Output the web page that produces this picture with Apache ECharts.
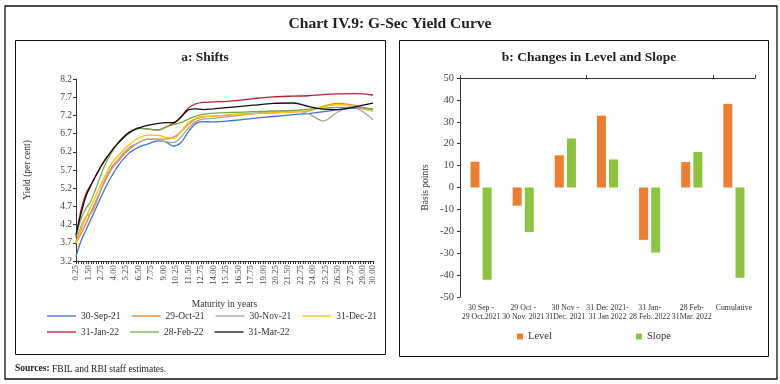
<!DOCTYPE html>
<html><head><meta charset="utf-8">
<script src="https://cdn.jsdelivr.net/npm/echarts@6/dist/echarts.min.js"></script>
<style>html,body{margin:0;padding:0;background:#fff}#c{width:780px;height:384px}</style>
</head><body><div id="c"></div><script>
const maturities = [0.25,0.75,1.25,1.75,2.25,3,3.75,4.5,5.5,6.5,7.5,8.5,9.25,10,10.75,11.5,12.25,13,14,16,18,20,22,23.5,25,26.5,28,29,30];
const sep21 = [3.32,3.75,4.05,4.35,4.65,5.1,5.5,5.83,6.15,6.32,6.42,6.5,6.47,6.36,6.45,6.75,6.98,7.03,7.02,7.06,7.12,7.17,7.22,7.25,7.3,7.36,7.4,7.39,7.37];
const oct21 = [3.7,3.95,4.23,4.55,4.85,5.3,5.7,5.95,6.25,6.45,6.55,6.55,6.55,6.6,6.75,6.95,7.1,7.16,7.18,7.22,7.25,7.27,7.3,7.32,7.45,7.53,7.48,7.42,7.36];
const nov21 = [3.72,4.15,4.42,4.5,4.78,5.35,5.75,6.0,6.3,6.45,6.55,6.53,6.48,6.45,6.6,6.85,7.03,7.1,7.12,7.18,7.24,7.32,7.33,7.25,7.05,7.3,7.43,7.3,7.08];
const dec21 = [3.68,4.05,4.4,4.7,5.0,5.45,5.85,6.1,6.38,6.58,6.66,6.65,6.6,6.57,6.75,7.0,7.12,7.17,7.18,7.22,7.25,7.27,7.3,7.33,7.44,7.5,7.46,7.38,7.31];
const jan22 = [3.85,4.6,5.05,5.3,5.55,5.9,6.2,6.45,6.7,6.85,6.82,6.8,6.88,6.98,7.15,7.4,7.52,7.56,7.57,7.6,7.66,7.71,7.73,7.74,7.77,7.79,7.8,7.79,7.76];
const feb22 = [3.88,4.35,4.65,4.85,5.2,5.75,6.15,6.45,6.72,6.85,6.82,6.8,6.88,6.95,7.0,7.1,7.18,7.23,7.26,7.28,7.3,7.32,7.34,7.37,7.4,7.42,7.43,7.4,7.36];
const mar22 = [3.92,4.5,4.98,5.28,5.55,5.92,6.2,6.45,6.72,6.85,6.93,6.98,7.0,7.0,7.15,7.35,7.38,7.36,7.38,7.43,7.48,7.53,7.54,7.45,7.37,7.36,7.42,7.48,7.54];
const curveNames = ['30-Sep-21','29-Oct-21','30-Nov-21','31-Dec-21','31-Jan-22','28-Feb-22','31-Mar-22'];
const curveColors = ['#4472C4','#ED7D31','#A5A5A5','#FFC000','#B8202E','#70AD47','#111111'];
const periods = ['30 Sep -\n29 Oct.2021','29 Oct -\n30 Nov. 2021','30 Nov -\n31Dec. 2021','31 Dec 2021-\n31 Jan 2022','31 Jan-\n28 Feb. 2022','28 Feb-\n31Mar. 2022','Cumulative'];
const level = [11.8,-8.3,14.7,32.8,-23.9,11.6,38.2];
const slope = [-42.1,-20.3,22.4,12.8,-29.7,16.2,-41.2];

const FONT = 'Liberation Serif';
const curves = [sep21,oct21,nov21,dec21,jan22,feb22,mar22];
const lineSeries = curves.map((vals,i)=>({
  name: curveNames[i], type:'line', xAxisIndex:0, yAxisIndex:0,
  data: maturities.map((m,j)=>[m, vals[j]]),
  smooth: 0.35, symbol:'none', lineStyle:{width:1.3, color:curveColors[i]}, itemStyle:{color:curveColors[i]}
}));

const legendCommon = {icon:'rect', itemWidth:29, itemHeight:1.3, itemGap:11, textStyle:{fontFamily:FONT,fontSize:9.5,color:'#333'}};

const chart = echarts.init(document.getElementById('c'));
chart.setOption({
  animation:false,
  textStyle:{fontFamily:FONT},
  title:[
    {text:'Chart IV.9: G-Sec Yield Curve', left:'center', top:11, textStyle:{fontFamily:FONT,fontSize:15.5,fontWeight:'bold',color:'#222'}},
    {text:'a: Shifts', left:200, textAlign:'center', top:46, textStyle:{fontFamily:FONT,fontSize:13.5,fontWeight:'bold',color:'#222'}},
    {text:'b: Changes in Level and Slope', left:584, textAlign:'center', top:46, textStyle:{fontFamily:FONT,fontSize:13.5,fontWeight:'bold',color:'#222'}}
  ],
  graphic:[
    {type:'rect', shape:{x:5,y:6,width:772,height:373}, style:{fill:null,stroke:'#111',lineWidth:1.3}, silent:true},
    {type:'rect', shape:{x:15.5,y:40.5,width:370,height:314}, style:{fill:null,stroke:'#111',lineWidth:1}, silent:true},
    {type:'rect', shape:{x:399.5,y:40.5,width:369,height:316}, style:{fill:null,stroke:'#111',lineWidth:1}, silent:true},
    {type:'text', left:15, top:364, style:{text:'{b|Sources:} FBIL and RBI staff estimates.', font:'9.5px '+FONT, fill:'#222', rich:{b:{fontWeight:'bold',fontSize:9.5,fontFamily:FONT}}}}
  ],
  legend:[
    Object.assign({data:curveNames.slice(0,4), left:42, top:306}, legendCommon),
    Object.assign({data:curveNames.slice(4), left:42, top:322}, legendCommon),
    {data:['Level','Slope'], left:512, top:326, icon:'rect', itemWidth:6, itemHeight:6, itemGap:84, textStyle:{fontFamily:FONT,fontSize:10.5,color:'#333'}}
  ],
  grid:[
    {left:76, right:407, top:79, bottom:123},
    {left:460, right:25, top:78, bottom:87}
  ],
  xAxis:[
    {type:'value', gridIndex:0, min:0.25, max:30, interval:0.25,
     name:'Maturity in years', nameLocation:'middle', nameGap:38, nameTextStyle:{fontFamily:FONT,fontSize:9.5,color:'#333'},
     axisLine:{lineStyle:{color:'#333'}}, axisTick:{show:true,length:3,lineStyle:{color:'#333'}}, splitLine:{show:false},
     axisLabel:{rotate:90, fontSize:8.8, color:'#444', margin:4, fontFamily:FONT,
       formatter:function(v){const k=(v-0.25)/1.25; if(Math.abs(k-Math.round(k))<1e-6 || Math.abs(v-30)<1e-6) return v.toFixed(2); return '';}}},
    {type:'category', gridIndex:1, data:periods, position:'bottom', axisLine:{show:false}, axisTick:{show:false},
     axisLabel:{fontSize:7.8, lineHeight:9, color:'#333', margin:6, interval:0, fontFamily:FONT}},
    {type:'category', gridIndex:1, data:periods, axisLine:{onZero:true, lineStyle:{color:'#333'}}, axisTick:{show:true,length:3,lineStyle:{color:'#333'}}, axisLabel:{show:false}}
  ],
  yAxis:[
    {type:'value', gridIndex:0, min:3.2, max:8.2, interval:0.5,
     name:'Yield (per cent)', nameLocation:'middle', nameGap:44, nameTextStyle:{fontFamily:FONT,fontSize:9.5,color:'#333'},
     axisLine:{show:true,lineStyle:{color:'#333'}}, axisTick:{show:true,length:3,lineStyle:{color:'#333'}}, splitLine:{show:false},
     axisLabel:{fontSize:9.5, color:'#444', margin:4, fontFamily:FONT, formatter:v=>v.toFixed(1)}},
    {type:'value', gridIndex:1, min:-50, max:50, interval:10,
     name:'Basis points', nameLocation:'middle', nameGap:30, nameTextStyle:{fontFamily:FONT,fontSize:9.5,color:'#333'},
     axisLine:{show:true,lineStyle:{color:'#333'}}, axisTick:{show:true,length:3,lineStyle:{color:'#333'}}, splitLine:{show:false},
     axisLabel:{fontSize:10.5, color:'#444', margin:6, fontFamily:FONT}}
  ],
  series: lineSeries.concat([
    {name:'Level', type:'bar', xAxisIndex:1, yAxisIndex:1, data:level, barWidth:9, barGap:'35%', itemStyle:{color:'#ED7D31'}},
    {name:'Slope', type:'bar', xAxisIndex:1, yAxisIndex:1, data:slope, barWidth:9, barGap:'35%', itemStyle:{color:'#8CC43F'}}
  ])
});
</script></body></html>
